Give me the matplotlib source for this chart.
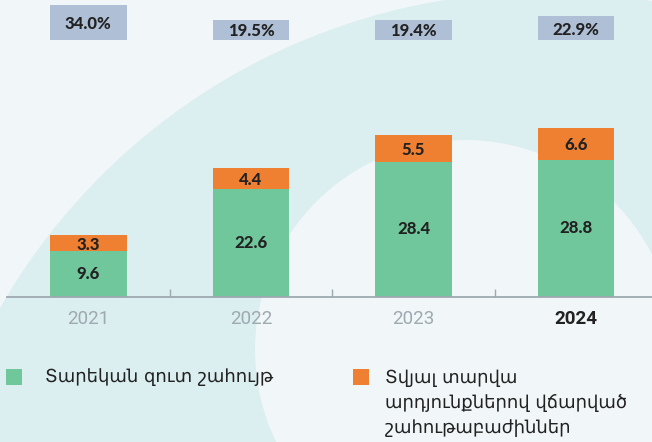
import matplotlib
matplotlib.use('Agg')
import matplotlib.pyplot as plt
from matplotlib.patches import Circle, Rectangle

# data
years = ['2021', '2022', '2023', '2024']
net_profit = [9.6, 22.6, 28.4, 28.8]
dividends = [3.3, 4.4, 5.5, 6.6]
payout_pct = [34.0, 19.5, 19.4, 22.9]
legend_labels = ['Տարեկան զուտ շահույթ',
                 'Տվյալ տարվա\nարդյունքներով վճարված\nշահութաբաժիններ']

GREEN = '#71c79c'
ORANGE = '#ef8031'
BOX = '#afbfd5'
BG = '#f1f6f9'
TEAL = '#dbeef0'
DARK = '#222222'
GREY = '#9ea9b0'


def main():
    fig = plt.figure(figsize=(6.52, 4.42), dpi=100)
    fig.patch.set_facecolor(BG)

    # background in pixel coordinates
    bg = fig.add_axes([0, 0, 1, 1], zorder=0)
    bg.set_xlim(0, 652)
    bg.set_ylim(442, 0)
    bg.axis('off')
    bg.add_patch(Circle((545, 620), 628, color=TEAL, lw=0))
    bg.add_patch(Circle((465, 350), 210, color=BG, lw=0))

    # bar chart
    ax = fig.add_axes([7 / 652, 145 / 442, 645 / 652, 297 / 442], zorder=1)
    ax.patch.set_alpha(0)
    px = 4.77  # pixels per unit
    ax.set_xlim(-0.5, 3.466)
    ax.set_ylim(0, 297 / px)

    x = list(range(len(years)))
    w = 0.47
    ax.bar(x, net_profit, width=w, color=GREEN, zorder=2)
    ax.bar(x, dividends, width=w, bottom=net_profit, color=ORANGE, zorder=2)

    num_font = dict(family='Lato', fontweight='black', fontsize=12, color=DARK)
    for i in x:
        ax.text(i, net_profit[i] / 2, f'{net_profit[i]:.1f}',
                ha='center', va='center', **num_font)
        ax.text(i, net_profit[i] + dividends[i] / 2 - 0.3, f'{dividends[i]:.1f}',
                ha='center', va='center', **num_font)

    # payout ratio boxes at the top
    box_base = (297 - 40) / px
    box_h = [p * 1.03 / px for p in payout_pct]
    ax.bar(x, box_h, width=w, bottom=box_base, color=BOX, zorder=2, clip_on=False)
    for i in x:
        ax.text(i, box_base + box_h[i] / 2 - 0.3, f'{payout_pct[i]:.1f}%',
                ha='center', va='center', **num_font)

    # axes styling
    for s in ['top', 'right', 'left']:
        ax.spines[s].set_visible(False)
    ax.spines['bottom'].set_color(GREY)
    ax.spines['bottom'].set_linewidth(1.3)
    ax.set_yticks([])
    ax.set_xticks(x)
    ax.set_xticklabels(years, fontsize=13.5, family='Roboto', color=GREY)
    ax.get_xticklabels()[-1].set_color(DARK)
    ax.get_xticklabels()[-1].set_fontweight('bold')
    ax.tick_params(axis='x', which='major', length=0, pad=9)
    ax.set_xticks([0.5, 1.5, 2.5], minor=True)
    ax.tick_params(axis='x', which='minor', direction='in', length=6,
                   width=1, color=GREY)

    # legend
    bg.add_patch(Rectangle((6, 369), 16, 16, color=GREEN, lw=0))
    bg.add_patch(Rectangle((353, 369), 16, 16, color=ORANGE, lw=0))
    leg_font = dict(family=['DejaVu Sans'], fontsize=13, color=DARK)
    bg.text(45, 377, legend_labels[0], va='center', ha='left', **leg_font)
    bg.text(385, 369, legend_labels[1], va='top', ha='left',
            linespacing=1.5, **leg_font)

    fig.savefig('out.png', dpi=100, facecolor=BG)


if __name__ == '__main__':
    main()
